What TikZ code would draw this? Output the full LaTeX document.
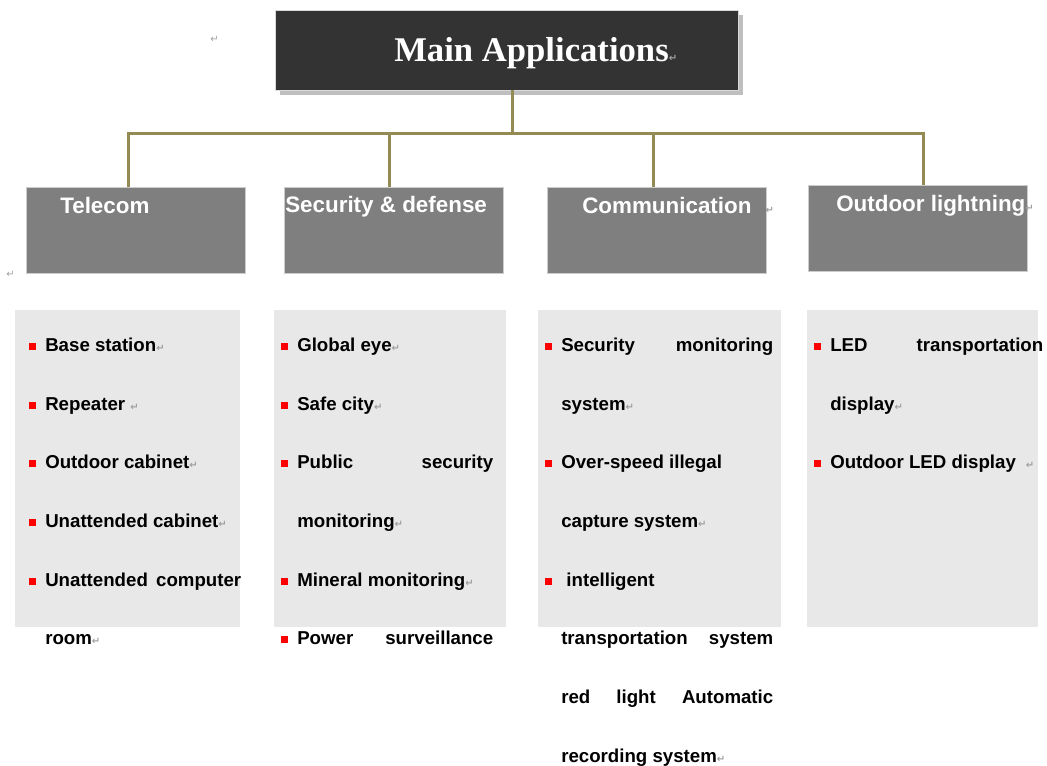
\documentclass[tikz,border=0pt]{standalone}
\usepackage{fontspec}
\usetikzlibrary{shadows}
\newfontfamily\hsans{Liberation Sans}
\newfontfamily\hserif{Liberation Serif}
\newfontfamily\hmark{DejaVu Sans}
\newlength\pxu
\setlength\pxu{0.75pt}
\definecolor{titlebg}{HTML}{333333}
\definecolor{headbg}{HTML}{7F7F7F}
\definecolor{listbg}{HTML}{E8E8E8}
\definecolor{busline}{HTML}{948A54}
\definecolor{markgray}{HTML}{A0A0A0}
\newcommand\pmark{{\hmark\fontsize{7.5}{7.5}\selectfont\color{markgray}\symbol{"21B5}}}
\newcommand\bul{\makebox[16\pxu][l]{\color{red}\rule[1.5\pxu]{7\pxu}{7\pxu}}}
\newcommand\jline[2]{\makebox[#1\pxu][s]{#2}}

\begin{document}
\begin{tikzpicture} [
    x=0.75pt, y=-0.75pt,
    titlebox/.style={rectangle, fill=titlebg, draw=black!15, inner sep=0pt,
        minimum width=463\pxu, minimum height=80\pxu,
        drop shadow={shadow xshift=5\pxu, shadow yshift=-5\pxu, fill=black!25, opacity=1}},
    titletext/.style={anchor=base west, inner sep=0pt, text=white,
        font=\hserif\bfseries\fontsize{26}{30}\selectfont},
    headbox/.style={rectangle, fill=headbg, draw=black!20, inner sep=0pt,
        minimum width=219\pxu, minimum height=86\pxu},
    headtext/.style={anchor=base west, inner sep=0pt, text=white,
        font=\hsans\bfseries\fontsize{16.8}{20}\selectfont},
    listbox/.style={rectangle, fill=listbg, anchor=north west, inner sep=0pt, minimum height=317\pxu},
    entry/.style={anchor=base west, inner sep=0pt,
        font=\hsans\bfseries\fontsize{14}{17}\selectfont},
    retmark/.style={anchor=base west, inner sep=0pt},
    bus/.style={draw=busline, line width=3\pxu}
    ]
    \useasboundingbox (0,0) rectangle (1047,765);

    %Nodes
    \node[retmark]   (m1)   at (210,42)  {\pmark};
    \node[retmark]   (m2)   at (6,277)   {\pmark};

    \node[titlebox]  (ttl)  at (506.5,50) {};
    \node[titletext] (ttlt) at (394,61)   {Main Applications\pmark};

    \node[headbox]   (hTel) at (135.5,230) {};
    \node[headbox]   (hSec) at (394,230)   {};
    \node[headbox]   (hCom) at (656.5,230) {};
    \node[headbox]   (hOut) at (917.5,228) {};
    \node[headtext]  (lTel) at (60,213)  {Telecom};
    \node[headtext]  (lSec) at (285,212) {Security \& defense};
    \node[headtext]  (lCom) at (582,213) {Communication\hspace{14\pxu}\pmark};
    \node[headtext]  (lOut) at (836,211) {Outdoor lightning\pmark};

    \node[listbox, minimum width=225\pxu] (bTel) at (15,310)  {};
    \node[listbox, minimum width=232\pxu] (bSec) at (274,310) {};
    \node[listbox, minimum width=243\pxu] (bCom) at (538,310) {};
    \node[listbox, minimum width=231\pxu] (bOut) at (807,310) {};

    % Telecom
    \node[entry] (t1a) at (29,351)  {\bul Base station\pmark};
    \node[entry] (t1b) at (29,410)  {\bul Repeater \pmark};
    \node[entry] (t1c) at (29,468)  {\bul Outdoor cabinet\pmark};
    \node[entry] (t1d) at (29,527)  {\bul Unattended cabinet\pmark};
    \node[entry] (t1e) at (29,586)  {\bul\jline{196}{Unattended computer}};
    \node[entry] (t1f) at (45,644)  {room\pmark};

    % Security & defense
    \node[entry] (t2a) at (281,351) {\bul Global eye\pmark};
    \node[entry] (t2b) at (281,410) {\bul Safe city\pmark};
    \node[entry] (t2c) at (281,468) {\bul\jline{196}{Public security}};
    \node[entry] (t2d) at (297,527) {monitoring\pmark};
    \node[entry] (t2e) at (281,586) {\bul Mineral monitoring\pmark};
    \node[entry] (t2f) at (281,644) {\bul\jline{196}{Power surveillance}};

    % Communication
    \node[entry] (t3a) at (545,351) {\bul\jline{212}{Security monitoring}};
    \node[entry] (t3b) at (561,410) {system\pmark};
    \node[entry] (t3c) at (545,468) {\bul Over-speed illegal};
    \node[entry] (t3d) at (561,527) {capture system\pmark};
    \node[entry] (t3e) at (545,586) {\bul\ intelligent};
    \node[entry] (t3f) at (561,644) {\jline{212}{transportation system}};
    \node[entry] (t3g) at (561,703) {\jline{212}{red light Automatic}};
    \node[entry] (t3h) at (561,762) {recording system\pmark};

    % Outdoor lightning
    \node[entry] (t4a) at (814,351) {\bul\jline{213}{LED transportation}};
    \node[entry] (t4b) at (830,410) {display\pmark};
    \node[entry] (t4c) at (814,468) {\bul Outdoor LED display\hspace{10\pxu}\pmark};

    %Lines
    \coordinate (hub) at (512,133);
    \coordinate (d1)  at (128,133);
    \coordinate (d2)  at (389,133);
    \coordinate (d3)  at (653,133);
    \coordinate (d4)  at (923,133);
    \draw[bus] (ttl.south -| hub) -- (hub);
    \draw[bus] (hTel.north -| d1) -- (d1) -- (d4) -- (hOut.north -| d4);
    \draw[bus] (d2) -- (hSec.north -| d2);
    \draw[bus] (d3) -- (hCom.north -| d3);

\end{tikzpicture}
\end{document}
